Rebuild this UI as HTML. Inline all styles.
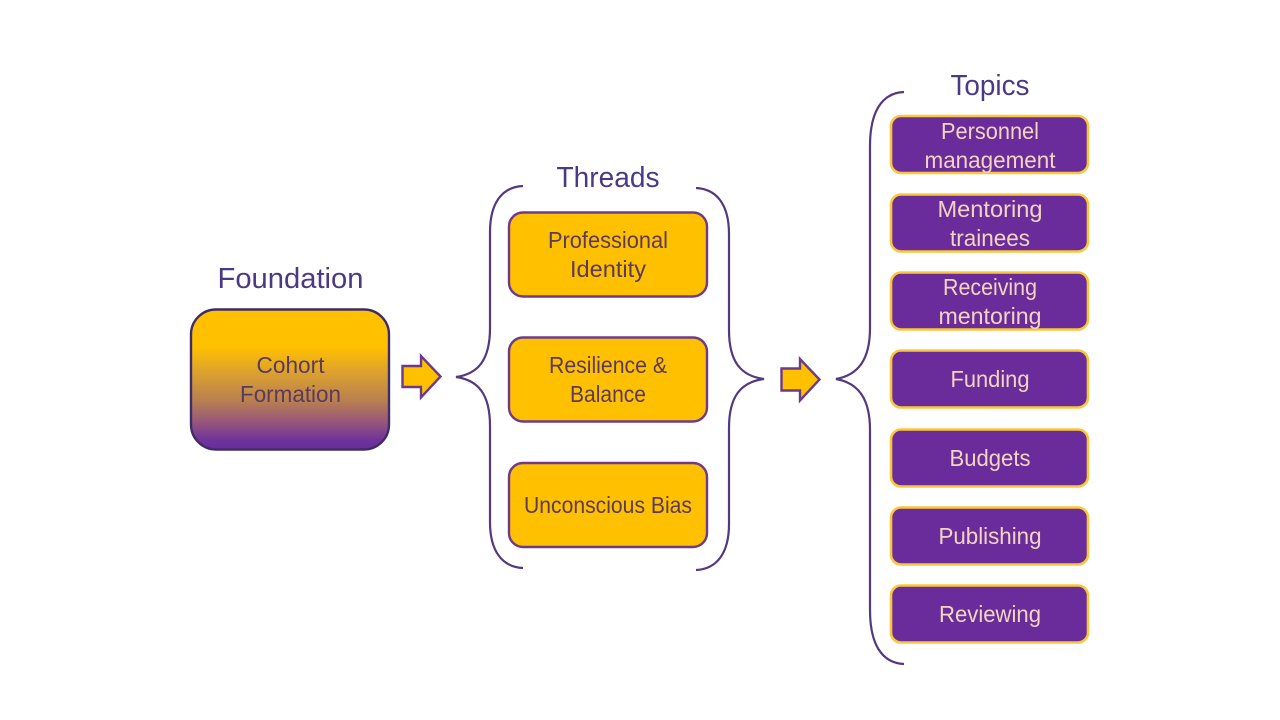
<!DOCTYPE html>
<html><head><meta charset="utf-8"><style>
html,body{margin:0;padding:0;background:#fff}
svg{display:block}
text{font-family:"Liberation Sans",sans-serif;text-anchor:middle}
.h{font-size:29px;fill:#4a3a86}
.y{font-size:23px;fill:#5b3a5e}
.p{font-size:23px;fill:#f3d3c0}
.b{fill:none;stroke:#53397f;stroke-width:2.2}
.yb{fill:#ffc000;stroke:#6f3a8a;stroke-width:2.4}
.pb{fill:#6a2c9b;stroke:#fbc73a;stroke-width:2.6}
.ar{fill:#ffc000;stroke:#6b3a8c;stroke-width:2.4}
</style></head><body>
<svg width="1280" height="720" viewBox="0 0 1280 720" xmlns="http://www.w3.org/2000/svg">
<defs><linearGradient id="g" x1="0" y1="0" x2="0" y2="1">
<stop offset="0" stop-color="#ffc000"/><stop offset="0.27" stop-color="#ffc000"/><stop offset="0.45" stop-color="#dca12e"/><stop offset="0.65" stop-color="#b98050"/><stop offset="0.79" stop-color="#9a5a78"/><stop offset="0.93" stop-color="#70349a"/><stop offset="1" stop-color="#672c9c"/></linearGradient></defs>
<rect width="1280" height="720" fill="#fff"/>

<text class="h" x="290.500" y="288" textLength="146" lengthAdjust="spacingAndGlyphs">Foundation</text>
<rect x="191" y="309.500" width="198" height="140" rx="25" fill="url(#g)" stroke="#3f2c66" stroke-width="2.400"/>
<text class="y" x="290.500" y="373" textLength="68" lengthAdjust="spacingAndGlyphs">Cohort</text>
<text class="y" x="290.500" y="402" textLength="101" lengthAdjust="spacingAndGlyphs">Formation</text>
<path class="ar" d="M402.500 366H421V356L440.500 376.500L421 397.500V387H402.500Z"/>

<text class="h" x="608" y="187" textLength="103" lengthAdjust="spacingAndGlyphs">Threads</text>
<path class="b" d="M523 186C502 187 490 203 490 232V328C490 360 478 374 456 377C478 380 490 394 490 426V522C490 551 502 567 523 568"/>
<path class="b" d="M696 188C717 189 729 205 729 234V330C729 362 741 376 764 379C741 382 729 396 729 428V524C729 553 717 569 696 570"/>
<rect class="yb" x="509" y="212.500" width="198" height="84" rx="14"/>
<text class="y" x="608" y="248" textLength="120" lengthAdjust="spacingAndGlyphs">Professional</text>
<text class="y" x="608" y="277" textLength="76" lengthAdjust="spacingAndGlyphs">Identity</text>
<rect class="yb" x="509" y="337.500" width="198" height="84" rx="14"/>
<text class="y" x="608" y="373" textLength="118" lengthAdjust="spacingAndGlyphs">Resilience &amp;</text>
<text class="y" x="608" y="402" textLength="76" lengthAdjust="spacingAndGlyphs">Balance</text>
<rect class="yb" x="509" y="463" width="198" height="84" rx="14"/>
<text class="y" x="608" y="513" textLength="168" lengthAdjust="spacingAndGlyphs">Unconscious Bias</text>
<path class="ar" d="M781.500 368.500H800V359L819.500 379.500L800 400.500V390.500H781.500Z"/>

<text class="h" x="990" y="95" textLength="79" lengthAdjust="spacingAndGlyphs">Topics</text>
<path class="b" d="M904 92C881 93 870 113 870 146V328C870 360 858 375 836 379C858 383 870 398 870 430V610C870 643 881 663 904 664"/>

<rect class="pb" x="891" y="116" width="197" height="57" rx="10"/>
<text class="p" x="990" y="139" textLength="98" lengthAdjust="spacingAndGlyphs">Personnel</text>
<text class="p" x="990" y="168" textLength="131" lengthAdjust="spacingAndGlyphs">management</text>
<rect class="pb" x="891" y="194.500" width="197" height="57" rx="10"/>
<text class="p" x="990" y="217" textLength="105" lengthAdjust="spacingAndGlyphs">Mentoring</text>
<text class="p" x="990" y="246" textLength="80" lengthAdjust="spacingAndGlyphs">trainees</text>
<rect class="pb" x="891" y="272.500" width="197" height="57" rx="10"/>
<text class="p" x="990" y="295" textLength="94" lengthAdjust="spacingAndGlyphs">Receiving</text>
<text class="p" x="990" y="324" textLength="103" lengthAdjust="spacingAndGlyphs">mentoring</text>
<rect class="pb" x="891" y="350.500" width="197" height="57" rx="10"/>
<text class="p" x="990" y="387" textLength="79" lengthAdjust="spacingAndGlyphs">Funding</text>
<rect class="pb" x="891" y="429.500" width="197" height="57" rx="10"/>
<text class="p" x="990" y="466" textLength="81" lengthAdjust="spacingAndGlyphs">Budgets</text>
<rect class="pb" x="891" y="507.500" width="197" height="57" rx="10"/>
<text class="p" x="990" y="544" textLength="103" lengthAdjust="spacingAndGlyphs">Publishing</text>
<rect class="pb" x="891" y="585.500" width="197" height="57" rx="10"/>
<text class="p" x="990" y="622" textLength="102" lengthAdjust="spacingAndGlyphs">Reviewing</text>
</svg>
</body></html>
